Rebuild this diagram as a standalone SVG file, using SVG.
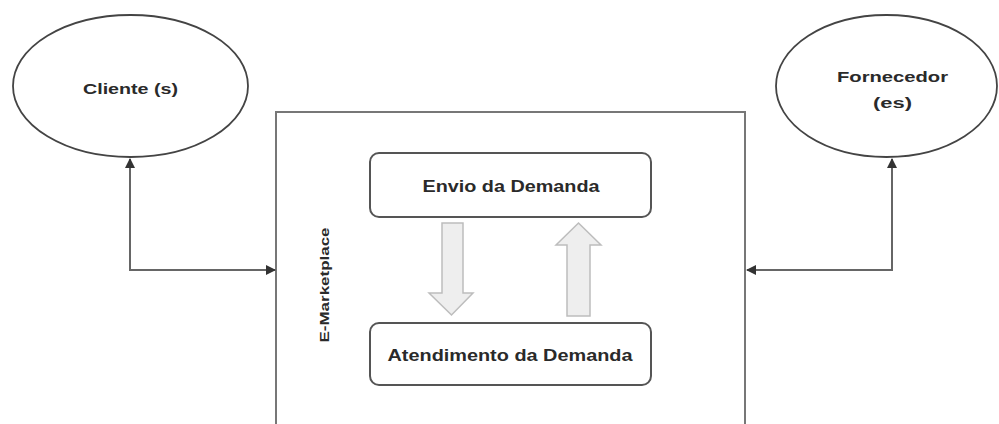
<svg xmlns="http://www.w3.org/2000/svg" width="999" height="424" viewBox="0 0 999 424">
<style>
.ell{fill:#fff;stroke:#444;stroke-width:1.8}
.box{fill:#fff;stroke:#555;stroke-width:2}
.frame{fill:#fff;stroke:#777;stroke-width:2}
.con{fill:none;stroke:#666;stroke-width:2}
.blk{fill:#eeeeee;stroke:#bdbdbd;stroke-width:1.5}
.t{font-family:"Liberation Sans",Arial,sans-serif;font-weight:bold;fill:#2a2a2a;text-anchor:middle}
</style>
<defs>
<marker id="ah" viewBox="0 0 10 10" refX="9" refY="5" markerWidth="5" markerHeight="5" orient="auto-start-reverse">
<path d="M0,0 L10,5 L0,10 z" fill="#333"/>
</marker>
</defs>
<rect width="999" height="424" fill="#fff"/>
<g id="marketplace">
<rect class="frame" x="276" y="112" width="469" height="330"/>
<text class="t" font-size="13" transform="translate(329,285) rotate(-90)" textLength="115" lengthAdjust="spacingAndGlyphs">E-Marketplace</text>
</g>
<g id="cliente">
<ellipse class="ell" cx="130.5" cy="86" rx="117.5" ry="71"/>
<text class="t" x="130.5" y="94" font-size="15" textLength="95" lengthAdjust="spacingAndGlyphs">Cliente (s)</text>
</g>
<g id="fornecedor">
<ellipse class="ell" cx="886.5" cy="86" rx="110.5" ry="71"/>
<text class="t" x="892.5" y="82" font-size="14" textLength="111" lengthAdjust="spacingAndGlyphs">Fornecedor</text>
<text class="t" x="892.5" y="108" font-size="14" textLength="39" lengthAdjust="spacingAndGlyphs">(es)</text>
</g>
<g id="envio">
<rect class="box" x="370" y="153" width="281" height="64" rx="9"/>
<text class="t" x="511" y="192" font-size="17" textLength="177" lengthAdjust="spacingAndGlyphs">Envio da Demanda</text>
</g>
<g id="atendimento">
<rect class="box" x="370" y="323" width="281" height="62" rx="9"/>
<text class="t" x="510" y="361" font-size="17" textLength="245" lengthAdjust="spacingAndGlyphs">Atendimento da Demanda</text>
</g>
<g id="connectors">
<path class="con" d="M130,159 V270 H275" marker-start="url(#ah)" marker-end="url(#ah)"/>
<path class="con" d="M892,159 V270 H747" marker-start="url(#ah)" marker-end="url(#ah)"/>
<path class="blk" d="M442,223 H463 V293 H473 L451.5,315 L429,293 H442 Z"/>
<path class="blk" d="M567,316 H590 V245 H601 L578.5,223 L556,245 H567 Z"/>
</g>
</svg>
